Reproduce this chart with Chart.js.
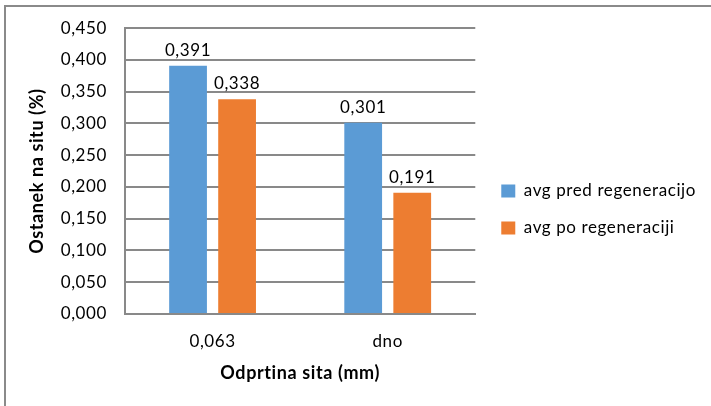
<!DOCTYPE html>
<html>
<head>
<meta charset="utf-8">
<script src="https://cdn.jsdelivr.net/npm/chart.js@4.4.1/dist/chart.umd.min.js"></script>
<style>
  html, body { margin: 0; padding: 0; background: #fff; overflow: hidden; }
  #frame { position: absolute; left: 4px; top: 5px; width: 800px; height: 500px; border: 2px solid #8a8a8a; }
  #wrap { position: absolute; left: 0; top: 0; width: 711px; height: 406px; }
</style>
</head>
<body>
<div id="frame"></div>
<div id="wrap"><canvas id="myChart"></canvas></div>
<script>
const categories = ['0,063', 'dno'];
const seriesNames = ['avg pred regeneracijo', 'avg po regeneraciji'];
const predValues = [0.391, 0.301];
const poValues = [0.338, 0.191];
const yTicks = [0, 0.05, 0.1, 0.15, 0.2, 0.25, 0.3, 0.35, 0.4, 0.45];

const ctx = document.getElementById('myChart');
const fmt = (v) => v.toFixed(3).replace('.', ',');
const gridColor = '#898989';
const fontFamily = 'Lato, "Open Sans", sans-serif';
const spacing = '0.6px';

// Excel spreads its letters a little
const letterSpacing = {
    id: 'letterSpacing',
    beforeLayout(chart) { chart.ctx.letterSpacing = spacing; },
    beforeDraw(chart) { chart.ctx.letterSpacing = spacing; }
};

// labels above the bars
const barLabels = {
    id: 'barLabels',
    afterDatasetsDraw(chart) {
        const c = chart.ctx;
        c.save();
        c.font = '17px ' + fontFamily;
        c.fillStyle = '#000';
        c.textAlign = 'center';
        c.textBaseline = 'bottom';
        chart.data.datasets.forEach((ds, i) => {
            chart.getDatasetMeta(i).data.forEach((bar, j) => {
                c.fillText(fmt(ds.data[j]), bar.x, bar.y - 7);
            });
        });
        c.restore();
    }
};

new Chart(ctx, {
    type: 'bar',
    data: {
        labels: categories,
        datasets: [{
            label: seriesNames[0],
            data: predValues,
            backgroundColor: '#5B9BD5',
        }, {
            label: seriesNames[1],
            data: poValues,
            backgroundColor: '#ED7D31',
        }]
    },
    options: {
        responsive: true,
        maintainAspectRatio: false,
        animation: false,
        layout: { padding: { top: 27, left: 0, right: 5, bottom: 14 } },
        datasets: {
            bar: { categoryPercentage: 0.56, barPercentage: 0.77 }
        },
        scales: {
            x: {
                grid: { display: false, drawTicks: false },
                border: { color: gridColor, width: 2 },
                ticks: { color: '#000', font: { family: fontFamily, size: 17 }, padding: 17 },
                title: {
                    display: true, text: 'Odprtina sita (mm)', color: '#000',
                    font: { family: fontFamily, size: 18, weight: 'bold' },
                    padding: { top: 0, bottom: 8 }
                },
                afterFit: (s) => { s.height = 78; }
            },
            y: {
                min: 0,
                max: 0.45,
                afterBuildTicks: (s) => { s.ticks = yTicks.map((v) => ({ value: v })); },
                grid: { color: gridColor, lineWidth: 2, drawTicks: false },
                border: { color: gridColor, width: 2 },
                ticks: { color: '#000', font: { family: fontFamily, size: 17 }, padding: 18, callback: (v) => fmt(v) },
                title: {
                    display: true, text: 'Ostanek na situ (%)', color: '#000',
                    font: { family: fontFamily, size: 18, weight: 'bold' },
                    padding: { top: 26, bottom: 0 }
                },
                afterFit: (s) => { s.width = 125; }
            },
            y2: {
                position: 'right',
                display: true,
                grid: { display: false, drawTicks: false },
                border: { display: false },
                ticks: { display: false },
                afterFit: (s) => { s.width = 6; }
            }
        },
        plugins: {
            legend: {
                position: 'right',
                maxWidth: 300,
                labels: {
                    color: '#000',
                    font: { family: fontFamily, size: 17 },
                    boxWidth: 14,
                    boxHeight: 13,
                    padding: 20
                }
            },
            tooltip: { enabled: false }
        }
    },
    plugins: [letterSpacing, barLabels]
});
</script>
</body>
</html>
